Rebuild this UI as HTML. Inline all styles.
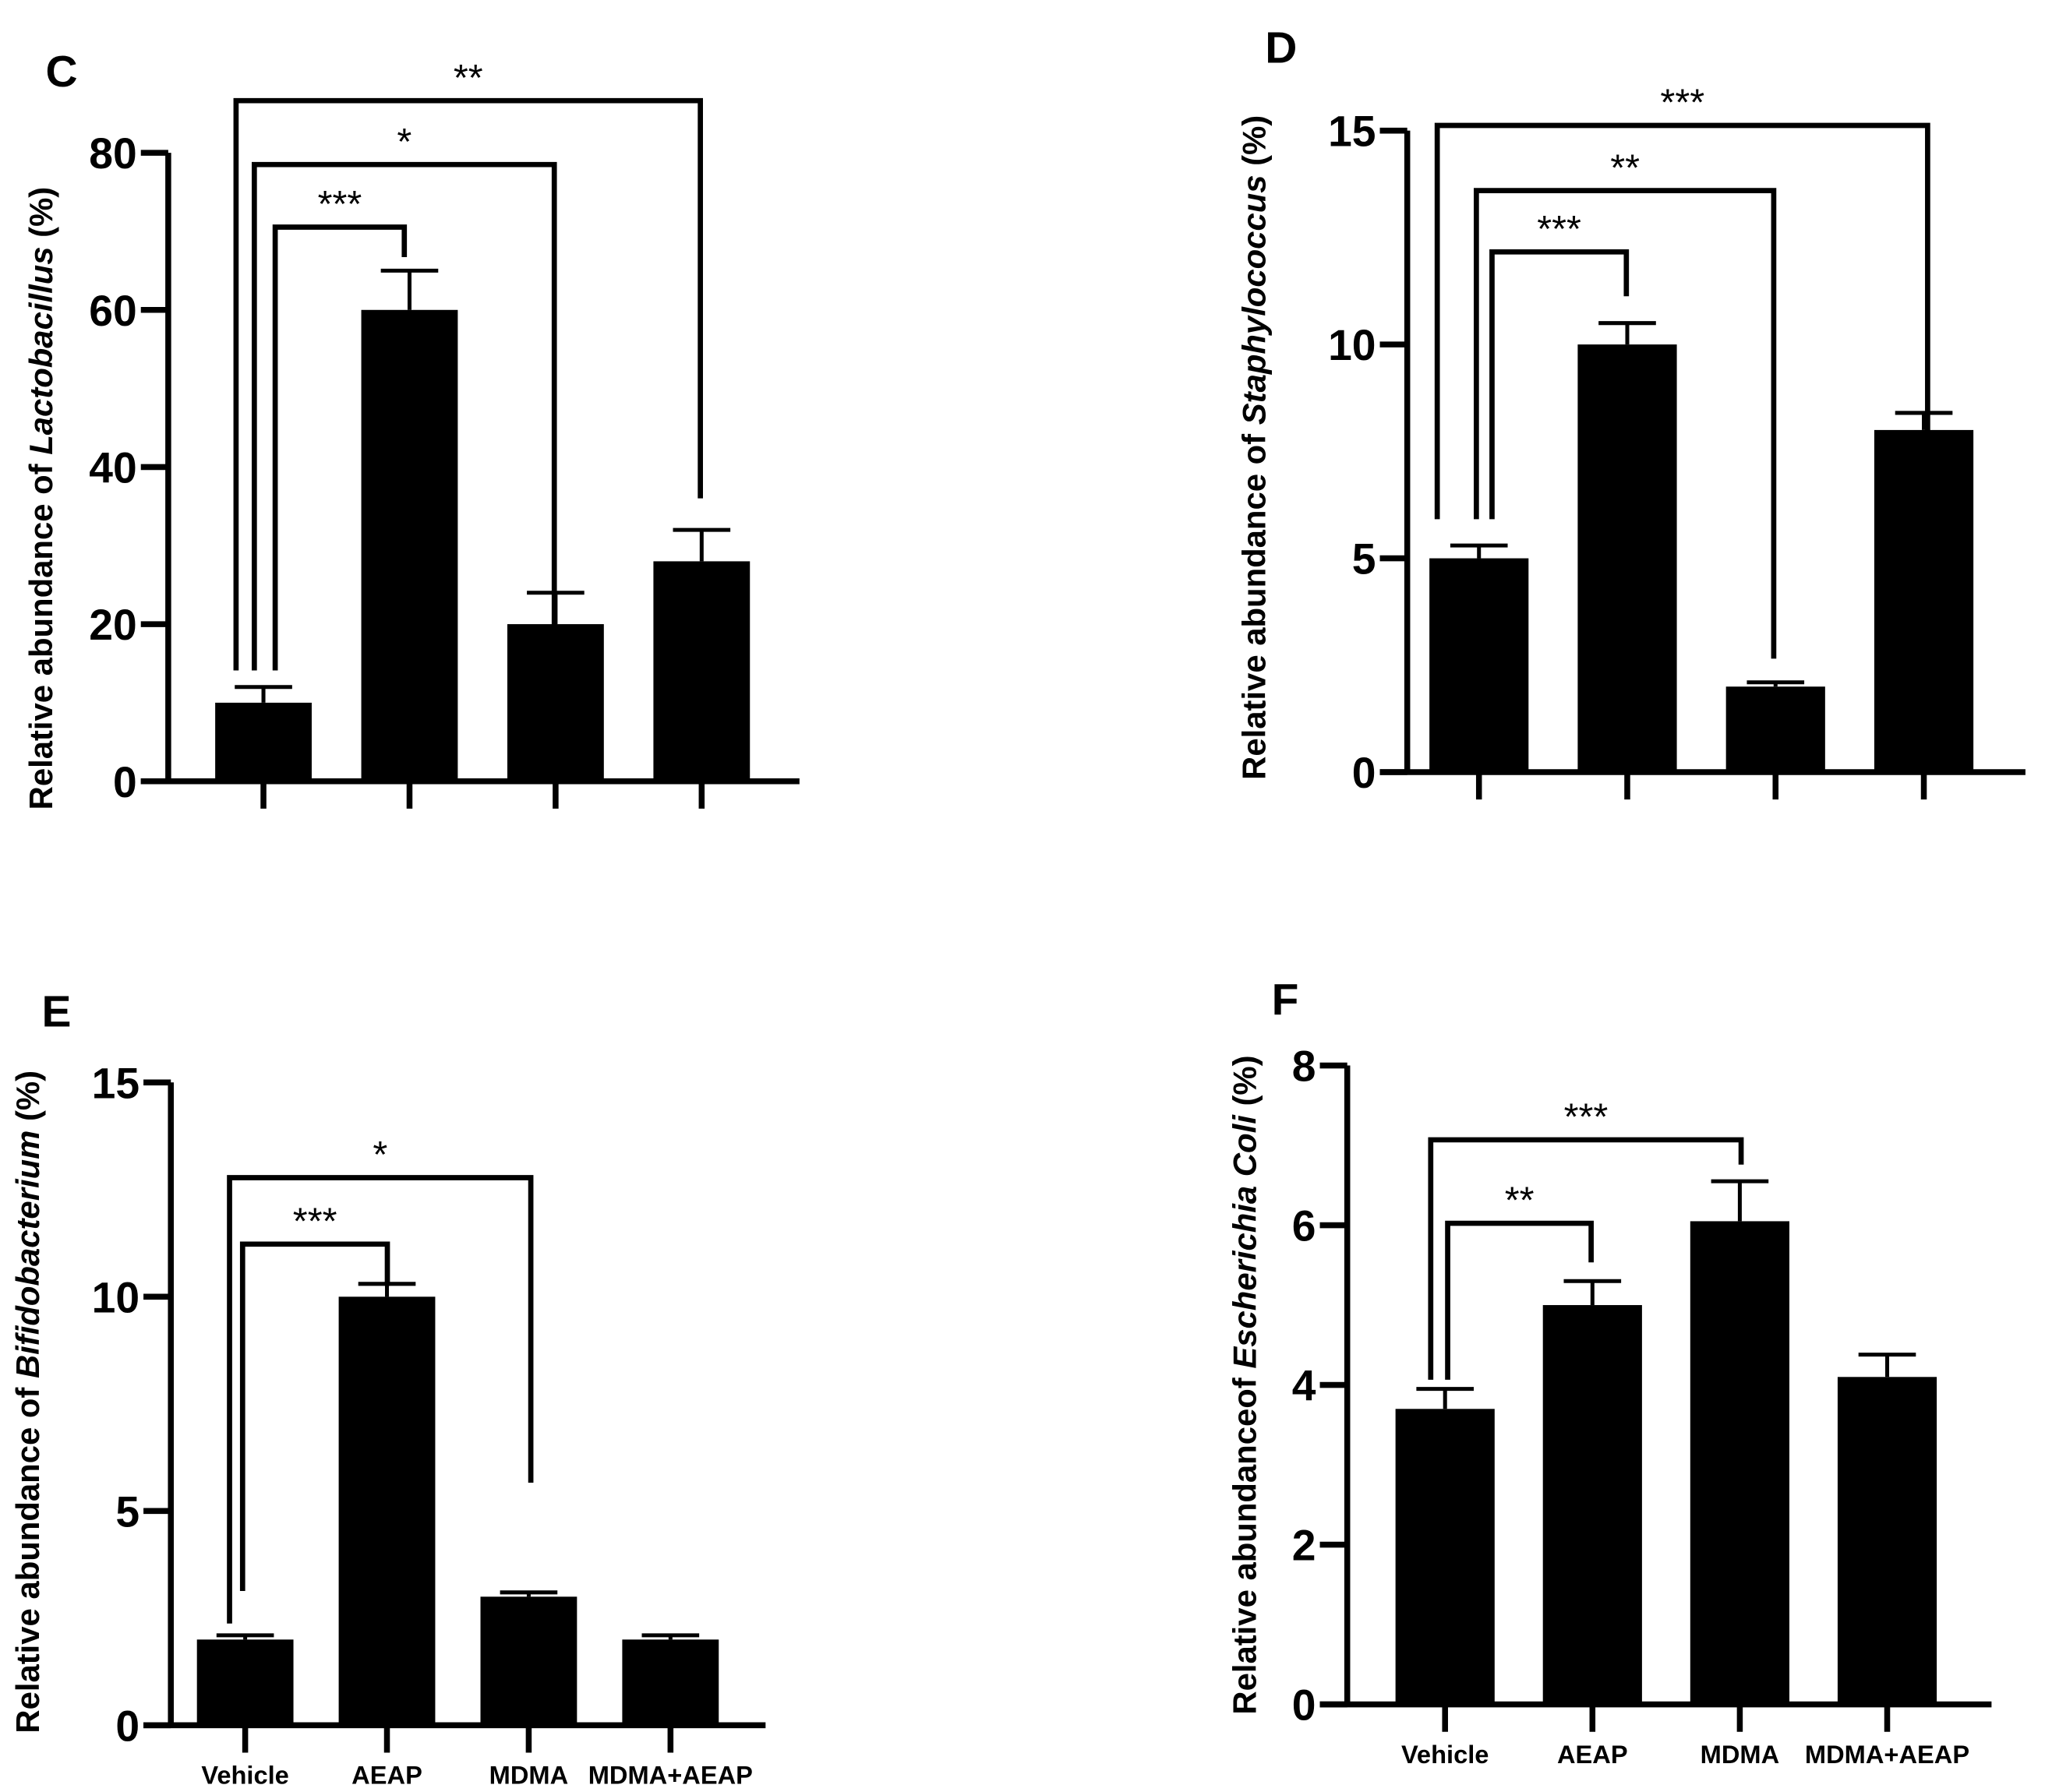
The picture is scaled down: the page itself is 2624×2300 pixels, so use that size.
<!DOCTYPE html>
<html><head><meta charset="utf-8"><style>
html,body{margin:0;padding:0;background:#fff;}
svg{display:block;font-family:"Liberation Sans",Arial,sans-serif;}
</style></head>
<body>
<svg id="fig" width="2624" height="2300" viewBox="0 0 1568 1374" xmlns="http://www.w3.org/2000/svg"></svg>
<script>
// Data
const categories = ["Vehicle","AEAP","MDMA","MDMA+AEAP"];
const lactoValues = [10, 60, 20, 28];
const lactoErrors = [12, 65, 24, 32];
const lactoTicks = [0, 20, 40, 60, 80];
const staphValues = [5, 10, 2, 8];
const staphErrors = [5.3, 10.5, 2.1, 8.4];
const staphTicks = [0, 5, 10, 15];
const bifidoValues = [2, 10, 3, 2];
const bifidoErrors = [2.1, 10.3, 3.1, 2.1];
const bifidoTicks = [0, 5, 10, 15];
const ecoliValues = [3.7, 5.0, 6.05, 4.1];
const ecoliErrors = [3.95, 5.3, 6.55, 4.38];
const ecoliTicks = [0, 2, 4, 6, 8];

const NS = "http://www.w3.org/2000/svg";
const svg = document.getElementById('fig');
function mk(tag, attrs, parent, text){
  const e = document.createElementNS(NS, tag);
  for (const k in attrs) e.setAttribute(k, attrs[k]);
  if (text !== undefined) e.textContent = text;
  (parent||svg).appendChild(e);
  return e;
}

function panel(cfg){
  const g = mk('g', {});
  
  
  const yMin = cfg.ticks[0], yMax = cfg.ticks[cfg.ticks.length-1];
  const y = v => cfg.y0 - (v - yMin) / (yMax - yMin) * (cfg.y0 - cfg.yTop);
  const x = i => cfg.xFirst + i * cfg.step;
  cfg.values.forEach((v, i) => {
    const r = mk('rect', {x: x(i) - cfg.bw/2, y: y(v), width: cfg.bw, height: y(0) - y(v), fill: '#000'}, g);
    
    
    const e = cfg.errors[i];
    const eb = mk('path', {d: `M${x(i)},${y(v)}V${y(e)}M${x(i)-22},${y(e)}H${x(i)+22}`, stroke: '#000', 'stroke-width': 3, fill: 'none'}, g);
    
    
  });
  const ax = mk('path', {d: `M${cfg.ax},${cfg.yTop}V${cfg.y0}M${cfg.ax-21},${cfg.y0}H${cfg.xEnd}`, stroke: '#000', 'stroke-width': 4.5, fill: 'none'}, g);
  
  
  cfg.ticks.forEach(t => {
    const tk = mk('line', {x1: cfg.ax-21, x2: cfg.ax, y1: y(t), y2: y(t), stroke: '#000', 'stroke-width': 4.5}, g);
    
    
    const tl = mk('text', {x: cfg.ax-24, y: y(t)+12, 'text-anchor': 'end', 'font-size': 33, 'font-weight': 'bold'}, g, String(t));
    
    
  });
  categories.forEach((c, i) => {
    const tk = mk('line', {x1: x(i), x2: x(i), y1: cfg.y0, y2: cfg.y0+21, stroke: '#000', 'stroke-width': 4.5}, g);
    
    
    if (cfg.xLabels) {
      const tl = mk('text', {x: x(i), y: cfg.y0+45, 'text-anchor': 'middle', 'font-size': 19.5, 'font-weight': 'bold'}, g, c);
      
      
    }
  });
  cfg.brackets.forEach(b => {
    const p = mk('path', {d: `M${b.lx},${b.lb}V${b.top}H${b.rx}V${b.rb}`, stroke: '#000', 'stroke-width': 4, fill: 'none'}, g);
    
    
    const t = mk('text', {x: (b.lx+b.rx)/2, y: b.top-8, 'text-anchor': 'middle', 'font-size': 29}, g, b.label);
    
    
  });
  const yl = mk('text', {transform: `translate(${cfg.ylx},${cfg.yly}) rotate(-90)`, 'text-anchor': 'middle', 'font-size': 25, 'font-weight': 'bold'}, g);
  
  
  mk('tspan', {}, yl, cfg.ylPre);
  mk('tspan', {'font-style': 'italic'}, yl, cfg.ylIt);
  mk('tspan', {}, yl, ' (%)');
  const pl = mk('text', {x: cfg.lx, y: cfg.ly, 'font-size': 34, 'font-weight': 'bold'}, g, cfg.letter);
  
  
}

panel({name:'panel-c-lactobacillus', values: lactoValues, errors: lactoErrors, ticks: lactoTicks,
  ax:129, yTop:117, y0:599, xEnd:613, xFirst:202, step:112, bw:74, xLabels:false,
  ylx:40, yly:382, ylPre:'Relative abundance of ', ylIt:'Lactobacillus', letter:'C', lx:35, ly:66,
  brackets:[
    {lx:211, rx:310, top:174, lb:514, rb:197, label:'***'},
    {lx:195, rx:425, top:126, lb:514, rb:486, label:'*'},
    {lx:181, rx:537, top:77, lb:514, rb:382, label:'**'}]});

panel({name:'panel-d-staphylococcus', values: staphValues, errors: staphErrors, ticks: staphTicks,
  ax:1079, yTop:100, y0:592, xEnd:1553, xFirst:1134, step:113.7, bw:76, xLabels:false,
  ylx:970, yly:343, ylPre:'Relative abundance of ', ylIt:'Staphylococcus', letter:'D', lx:970, ly:48,
  brackets:[
    {lx:1144, rx:1247, top:193, lb:398, rb:227, label:'***'},
    {lx:1132, rx:1360, top:146, lb:398, rb:505, label:'**'},
    {lx:1102, rx:1478, top:96, lb:398, rb:382, label:'***'}]});

panel({name:'panel-e-bifidobacterium', values: bifidoValues, errors: bifidoErrors, ticks: bifidoTicks,
  ax:131, yTop:830, y0:1323, xEnd:587, xFirst:188, step:108.7, bw:74, xLabels:true,
  ylx:30, yly:1075, ylPre:'Relative abundance of ', ylIt:'Bifidobacterium', letter:'E', lx:32, ly:787,
  brackets:[
    {lx:186, rx:297, top:954, lb:1220, rb:986, label:'***'},
    {lx:176, rx:407, top:903, lb:1245, rb:1137, label:'*'}]});

panel({name:'panel-f-escherichia-coli', values: ecoliValues, errors: ecoliErrors, ticks: ecoliTicks,
  ax:1033, yTop:817, y0:1307, xEnd:1527, xFirst:1108, step:113, bw:76, xLabels:true,
  ylx:963, yly:1062, ylPre:'Relative abundanceof ', ylIt:'Escherichia Coli', letter:'F', lx:975, ly:778,
  brackets:[
    {lx:1110, rx:1220, top:938, lb:1058, rb:968, label:'**'},
    {lx:1097, rx:1335, top:874, lb:1058, rb:893, label:'***'}]});
</script>
</body></html>
